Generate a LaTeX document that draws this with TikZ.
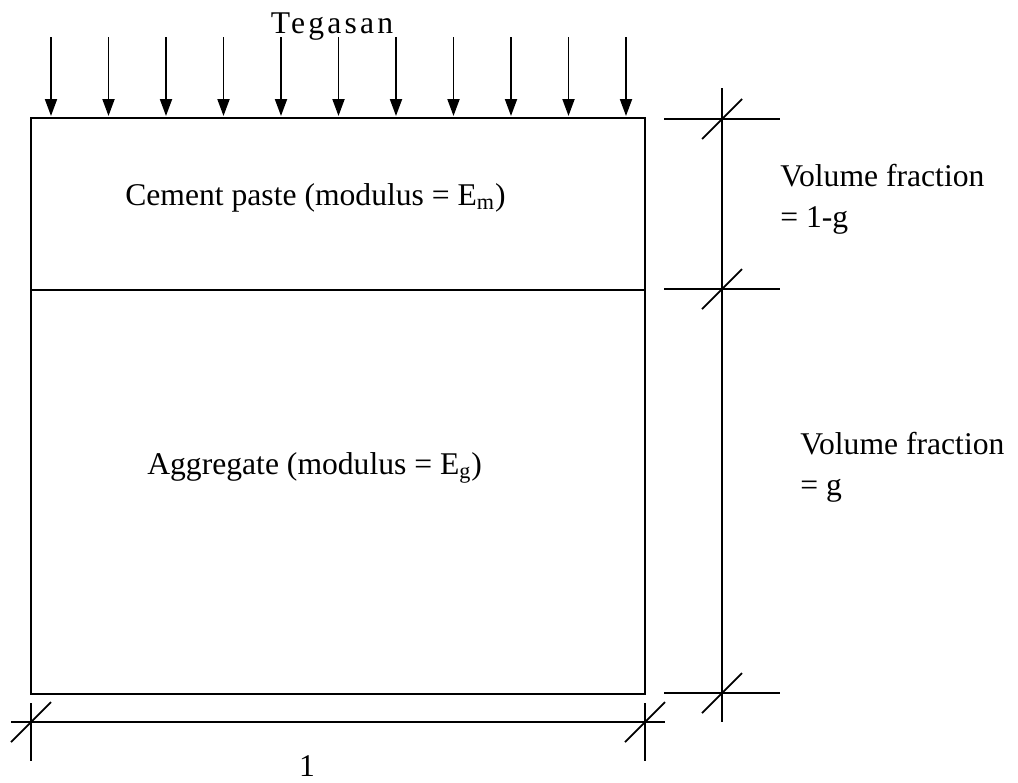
\documentclass[tikz,border=0pt]{standalone}
\usepackage{fontspec}
\setmainfont{Liberation Serif}
\usetikzlibrary{arrows.meta}

\begin{document}
\begin{tikzpicture}[
    x=0.02cm, y=-0.02cm,
    load/.style={-{Triangle[length=0.34cm, width=0.24cm]}, line width=1.1pt},
    body/.style={line width=1.1pt},
    dimline/.style={line width=1pt},
    slash/.style={line width=1pt},
    lbl/.style={font=\fontsize{18}{23.5}\selectfont, inner sep=0pt},
]
    \useasboundingbox (0,0) rectangle (1018,782);

    % specimen
    \coordinate (tl) at (31,118);
    \coordinate (br) at (645,694);
    \coordinate (ml) at (31,290);
    \coordinate (mr) at (645,290);
    \draw[body] (tl) rectangle (br);
    \draw[body] (ml) -- (mr);

    % applied stress
    \node[lbl, anchor=base, font=\fontsize{18}{23.5}\selectfont\addfontfeatures{LetterSpace=10}]
        (tegasan) at (332,33) {Tegasan};
    \foreach \i in {0,...,10}
        \draw[load] (51+57.5*\i,37) -- (51+57.5*\i,116);

    \node[lbl, anchor=base west] (paste) at (125,205)
        {Cement paste (modulus = E\textsubscript{m})};
    \node[lbl, anchor=base west] (agg) at (147,474)
        {Aggregate (modulus = E\textsubscript{g})};

    % height dimensions
    \coordinate (h1) at (722,119);
    \coordinate (h2) at (722,289);
    \coordinate (h3) at (722,693);
    \draw[dimline] (722,88) -- (722,722);
    \draw[dimline] (664,119) -- (780,119);
    \draw[dimline] (664,289) -- (780,289);
    \draw[dimline] (664,693) -- (780,693);

    \node[lbl, anchor=north west, align=left] (vf1) at (780,163.5)
        {Volume fraction\\= 1-g};
    \node[lbl, anchor=north west, align=left] (vf2) at (800,431.5)
        {Volume fraction\\= g};

    % width dimension
    \coordinate (w1) at (31,722);
    \coordinate (w2) at (645,722);
    \draw[dimline] (11,722) -- (665,722);
    \draw[dimline] (31,703) -- (31,761);
    \draw[dimline] (645,703) -- (645,761);
    \node[lbl, anchor=base] (width) at (307,776) {1};

    % ticks
    \foreach \p in {h1,h2,h3,w1,w2}
        \draw[slash, shift={(\p)}] (-20,20) -- (20,-20);
\end{tikzpicture}
\end{document}
